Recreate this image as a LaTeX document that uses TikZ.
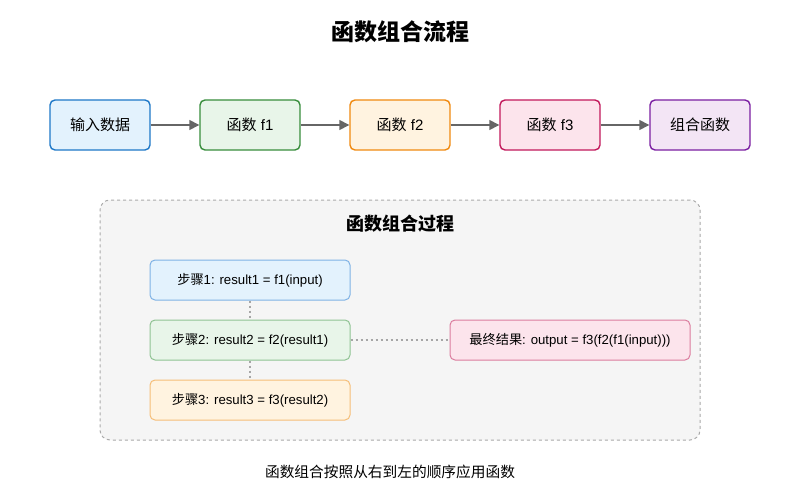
\documentclass[tikz,border=0pt]{standalone}
\usepackage{fontspec}
\setmainfont{Liberation Sans}
\newfontfamily\cjk{Noto Sans CJK SC}
\usetikzlibrary{arrows.meta}
\definecolor{b1f}{HTML}{E3F2FD}\definecolor{b1d}{HTML}{1E78C8}
\definecolor{b2f}{HTML}{E8F5E9}\definecolor{b2d}{HTML}{388E3C}
\definecolor{b3f}{HTML}{FFF3E0}\definecolor{b3d}{HTML}{F08A10}
\definecolor{b4f}{HTML}{FCE4EC}\definecolor{b4d}{HTML}{C2185B}
\definecolor{b5f}{HTML}{F3E5F5}\definecolor{b5d}{HTML}{7B1FA2}
\definecolor{s1d}{HTML}{7FB2E5}
\definecolor{s2d}{HTML}{8FC393}
\definecolor{s3d}{HTML}{F5BE78}
\definecolor{s4d}{HTML}{DB7C9E}
\definecolor{arr}{HTML}{666666}
\definecolor{panelf}{HTML}{F5F5F5}
\definecolor{paneld}{HTML}{AAAAAA}
\begin{document}
\begin{tikzpicture}[x=1pt,y=-1pt,
  topbox/.style={draw,line width=1.4pt,rounded corners=5pt,minimum width=100pt,minimum height=50pt,inner sep=0pt,font=\fontsize{15}{18}\selectfont},
  stepbox/.style={draw,line width=1pt,rounded corners=5pt,minimum height=40pt,inner sep=0pt,font=\fontsize{13.2}{16}\selectfont},
  flow/.style={draw=arr,line width=1.5pt,-{Triangle[length=10pt,width=10pt]}},
  dotline/.style={draw=gray!70,line width=1.2pt,dash pattern=on 2.5pt off 2.5pt}]
\useasboundingbox (0,0) rectangle (800,500);
\fill[white] (0,0) rectangle (800,500);
\node[font=\fontsize{23}{27}\selectfont\cjk\bfseries] (title) at (400,32) {函数组合流程};
\node[topbox,fill=b1f,draw=b1d] (in) at (100,125) {\cjk 输入数据};
\node[topbox,fill=b2f,draw=b2d] (f1) at (250,125) {{\cjk 函数} f1};
\node[topbox,fill=b3f,draw=b3d] (f2) at (400,125) {{\cjk 函数} f2};
\node[topbox,fill=b4f,draw=b4d] (f3) at (550,125) {{\cjk 函数} f3};
\node[topbox,fill=b5f,draw=b5d] (cf) at (700,125) {\cjk 组合函数};
\draw[flow] (in) -- (f1);
\draw[flow] (f1) -- (f2);
\draw[flow] (f2) -- (f3);
\draw[flow] (f3) -- (cf);
\node[draw=paneld,fill=panelf,line width=1pt,dashed,rounded corners=10pt,minimum width=600pt,minimum height=240pt] (panel) at (400,320) {};
\node[font=\fontsize{18}{21}\selectfont\cjk\bfseries] (sub) at (400,224) {函数组合过程};
\node[stepbox,fill=b1f,draw=s1d,minimum width=200pt] (s1) at (250,280) {{\cjk 步骤}1: result1 = f1(input)};
\node[stepbox,fill=b2f,draw=s2d,minimum width=200pt] (s2) at (250,340) {{\cjk 步骤}2: result2 = f2(result1)};
\node[stepbox,fill=b3f,draw=s3d,minimum width=200pt] (s3) at (250,400) {{\cjk 步骤}3: result3 = f3(result2)};
\node[stepbox,fill=b4f,draw=s4d,minimum width=240pt] (res) at (570,340) {{\cjk 最终结果}: output = f3(f2(f1(input)))};
\draw[dotline] (s1) -- (s2);
\draw[dotline] (s2) -- (s3);
\draw[dotline] (s2) -- (res);
\node[font=\fontsize{14.7}{17}\selectfont\cjk] (note) at (390,472) {函数组合按照从右到左的顺序应用函数};
\end{tikzpicture}
\end{document}
